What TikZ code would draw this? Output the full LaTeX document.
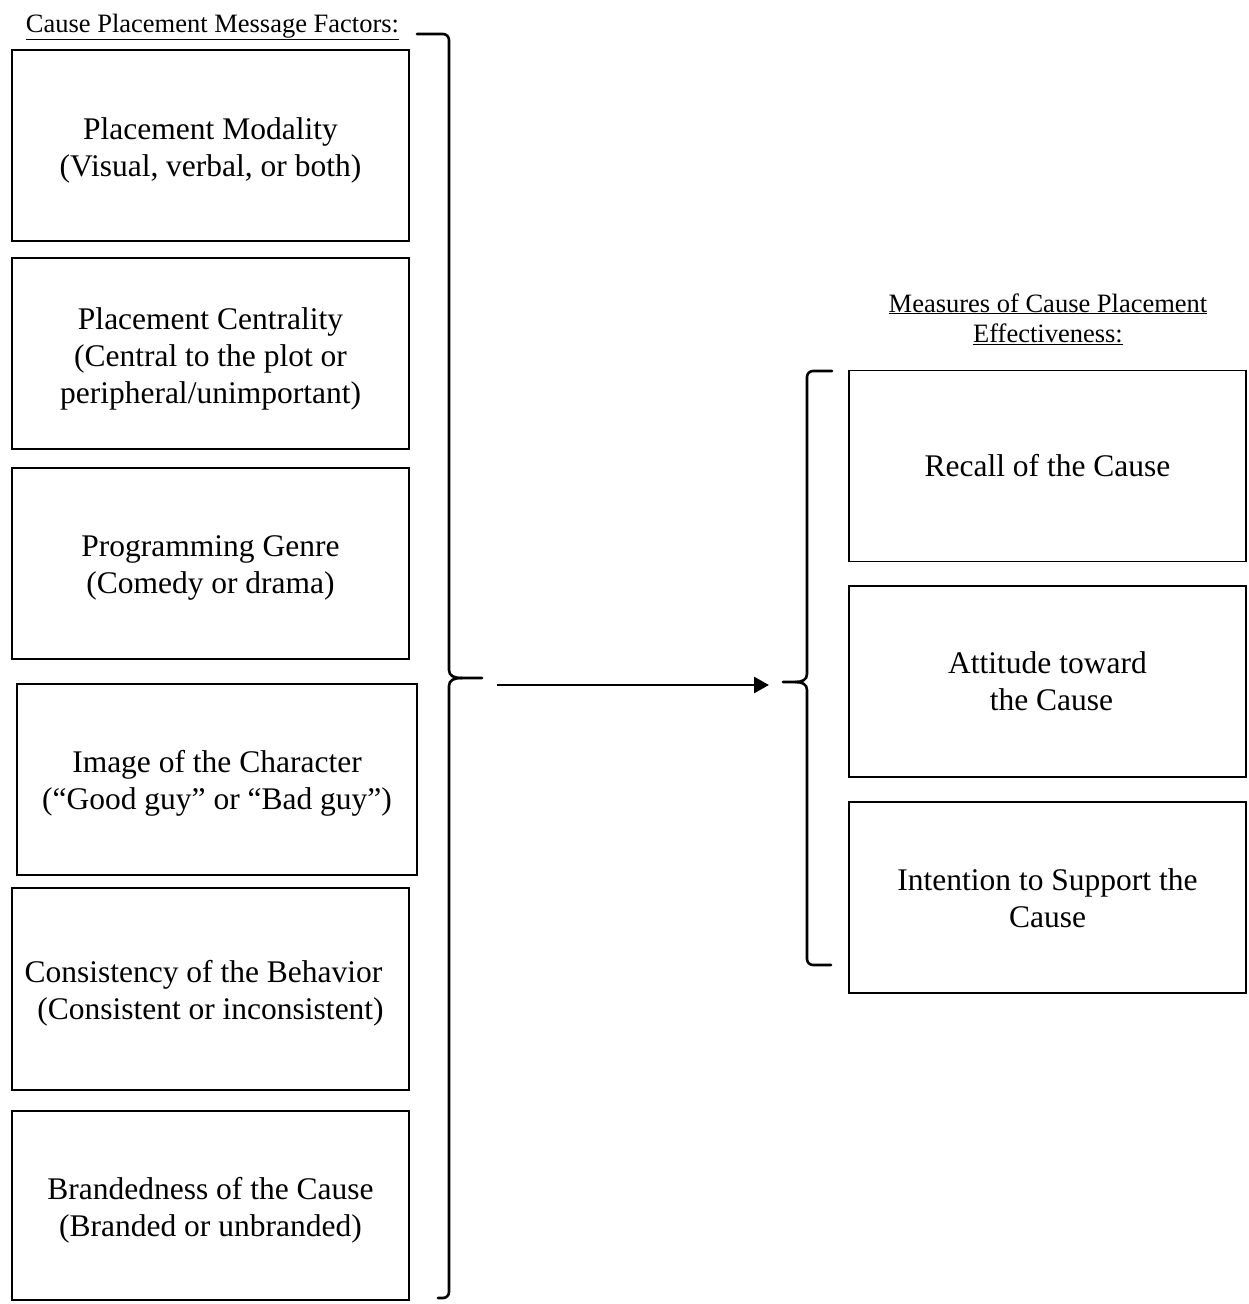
\documentclass[tikz,border=0pt]{standalone}
\usepackage{fontspec}
\setmainfont{Liberation Serif}
\usetikzlibrary{arrows.meta}
\tikzset{
  factor/.style={draw, line width=1.6pt, rectangle, minimum width=397pt, minimum height=191pt, inner sep=0pt},
  ftext/.style={align=center, inner sep=0pt, font=\fontsize{31.5}{37}\selectfont},
  header/.style={align=center, inner sep=0pt, font=\fontsize{26.5}{30}\selectfont},
  bracepath/.style={line width=2.6pt, line cap=round, line join=round},
  flow/.style={line width=2.6pt, -{Triangle[length=15pt,width=16pt]}}
}
\begin{document}
\begin{tikzpicture}[x=1pt,y=-1pt]
\useasboundingbox (0,0) rectangle (1248,1304);
% headers
\node[header, anchor=base] (lhead) at (212.5,32) {\underline{Cause Placement Message Factors:}};
\node[header, anchor=base] (rhead) at (1048,342) {\underline{Measures of Cause Placement}\\\underline{Effectiveness:}};
% left boxes
\node[factor] (b1) at (210.5,145.5) {};
\node[factor] (b2) at (210.5,353.5) {};
\node[factor] (b3) at (210.5,563.5) {};
\node[factor, minimum width=400pt] (b4) at (217,779.5) {};
\node[factor, minimum height=202pt] (b5) at (210.5,989) {};
\node[factor, minimum height=189pt] (b6) at (210.5,1205.5) {};
\node[ftext] (t1) at ([yshift=-5pt]b1.center) {Placement Modality\\(Visual, verbal, or both)};
\node[ftext] (t2) at ([yshift=-5pt]b2.center) {Placement Centrality\\(Central to the plot or\\peripheral/unimportant)};
\node[ftext] (t3) at ([yshift=-4pt]b3.center) {Programming Genre\\(Comedy or drama)};
\node[ftext] (t4) at ([yshift=-4pt]b4.center) {Image of the Character\\(“Good guy” or “Bad guy”)};
\node[ftext] (t5) at ([yshift=-4pt]b5.center) {Consistency of the Behavior\hspace*{14pt}\\(Consistent or inconsistent)};
\node[ftext] (t6) at ([yshift=-5pt]b6.center) {Brandedness of the Cause\\(Branded or unbranded)};
% right boxes
\node[factor] (r1) at (1047.5,466) {};
\node[factor] (r2) at (1047.5,681.5) {};
\node[factor] (r3) at (1047.5,897.5) {};
\node[ftext] (u1) at (r1.center) {Recall of the Cause};
\node[ftext] (u2) at (r2.center) {Attitude toward\\\hspace*{8pt}the Cause};
\node[ftext] (u3) at ([yshift=-1pt]r3.center) {Intention to Support the\\Cause};
% left brace
\coordinate (ltip) at (482,678);
\draw[bracepath] (417,34) -- (443,34) to[out=0,in=90] (449,40) -- (449,670)
  .. controls (449,676) and (454,678) .. (462,678) -- (ltip);
\draw[bracepath] (462,678) .. controls (454,678) and (449,680) .. (449,686)
  -- (449,1292) to[out=-90,in=0] (443,1298) -- (438,1298);
% right brace
\coordinate (rtip) at (783,682);
\draw[bracepath] (832,371) -- (813,371) to[out=180,in=90] (807,377) -- (807,674)
  .. controls (807,680) and (802,682) .. (795,682) -- (rtip);
\draw[bracepath] (795,682) .. controls (802,682) and (807,684) .. (807,690)
  -- (807,959) to[out=-90,in=180] (813,965) -- (831,965);
% arrow
\coordinate (astart) at (497,685);
\coordinate (aend) at (769,685);
\draw[flow] (astart) -- (aend);
\end{tikzpicture}
\end{document}
